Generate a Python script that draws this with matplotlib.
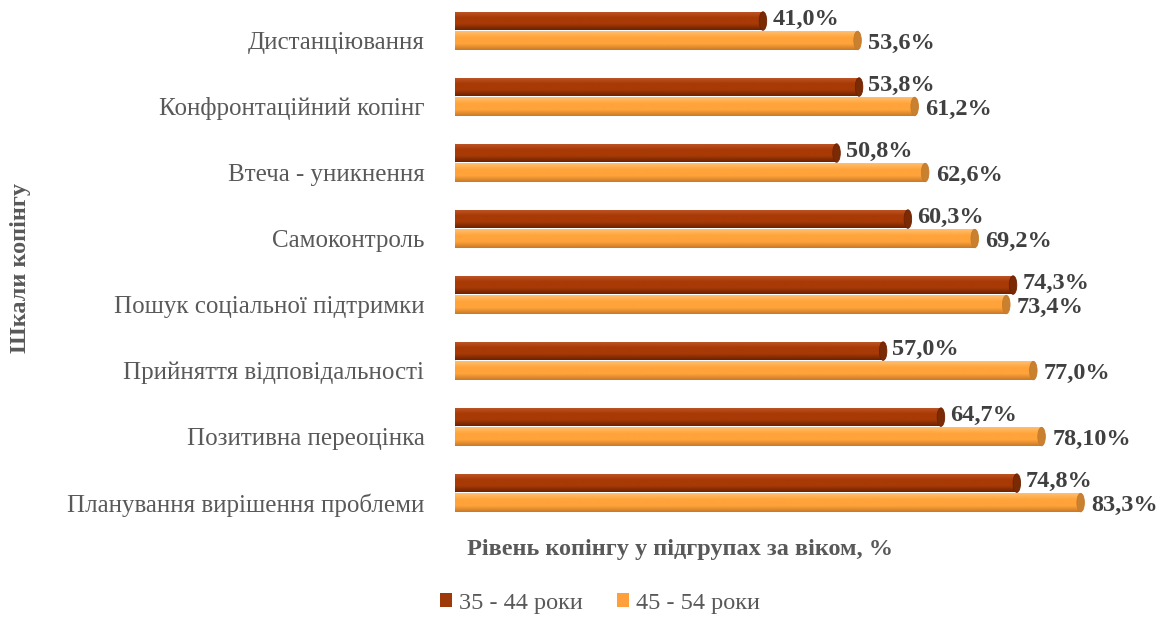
import numpy as np
import matplotlib.pyplot as plt
from matplotlib.colors import LinearSegmentedColormap
from matplotlib.patches import Rectangle, Ellipse, Patch

plt.rcParams['font.family'] = ['Liberation Serif', 'DejaVu Serif']

# шкали копінгу (зверху вниз)
scales = ['Дистанціювання', 'Конфронтаційний копінг', 'Втеча - уникнення',
          'Самоконтроль', 'Пошук соціальної підтримки',
          'Прийняття відповідальності', 'Позитивна переоцінка',
          'Планування вирішення проблеми']
age_35_44 = [41.0, 53.8, 50.8, 60.3, 74.3, 57.0, 64.7, 74.8]
age_45_54 = [53.6, 61.2, 62.6, 69.2, 73.4, 77.0, 78.1, 83.3]
labels_35_44 = ['41,0%', '53,8%', '50,8%', '60,3%', '74,3%', '57,0%', '64,7%', '74,8%']
labels_45_54 = ['53,6%', '61,2%', '62,6%', '69,2%', '73,4%', '77,0%', '78,10%', '83,3%']
series_names = ['35 - 44 роки', '45 - 54 роки']

text_grey = '#595959'
label_grey = '#404040'
fs = 17.5

# кольори циліндрів: верх, середина, низ, торець
dark_cols = ['#c0582a', '#a83a06', '#6e2200', '#7a2a05']
orange_cols = ['#ffc070', '#ffa33a', '#c87a28', '#c9802f']


def draw_cylinder(ax, value, yc, h, cols):
    cmap = LinearSegmentedColormap.from_list('cyl', [cols[0], cols[1], cols[1], cols[2]])
    grad = np.linspace(0, 1, 64).reshape(-1, 1)
    rect = Rectangle((0, yc - h / 2), value, h, transform=ax.transData,
                     facecolor='none', edgecolor='none')
    ax.add_patch(rect)
    im = ax.imshow(grad, cmap=cmap, extent=[0, value, yc - h / 2, yc + h / 2],
                   origin='lower', aspect='auto', zorder=2)
    im.set_clip_path(rect)
    # торець циліндра
    ax.add_patch(Ellipse((value, yc), 1.0, h, facecolor=cols[3],
                         edgecolor=cols[2], lw=0.6, zorder=3))
    # лівий край
    ax.add_patch(Ellipse((0, yc), 0.6, h, facecolor=cols[1],
                         edgecolor='none', zorder=1))


fig = plt.figure(figsize=(11.61, 6.19), dpi=100)
ax = fig.add_axes([455 / 1161, 1 - 530 / 619, 706 / 1161, 530 / 619])

h = 0.28
dy = 0.295
for i in range(len(scales)):
    draw_cylinder(ax, age_35_44[i], i, h, dark_cols)
    draw_cylinder(ax, age_45_54[i], i + dy, h, orange_cols)
    ax.annotate(labels_35_44[i], (age_35_44[i] + 0.5, i), xytext=(4, 1),
                textcoords='offset points', ha='left', va='center',
                fontsize=fs, fontweight='bold', color=label_grey)
    ax.annotate(labels_45_54[i], (age_45_54[i] + 0.5, i + dy), xytext=(5, -2),
                textcoords='offset points', ha='left', va='center',
                fontsize=fs, fontweight='bold', color=label_grey)

ax.set_xlim(0, 94.0)
ax.set_ylim(7.71, -0.318)
ax.set_yticks([i + dy for i in range(len(scales))])
ax.set_yticklabels(scales, fontsize=18, color=text_grey)
ax.tick_params(axis='y', length=0, pad=22)
ax.set_xticks([])
for s in ax.spines.values():
    s.set_visible(False)

fig.text(0.018, 1 - 268 / 619, 'Шкали копінгу', rotation=90, ha='center', va='center',
         fontsize=fs, fontweight='bold', color=text_grey)
fig.text(680 / 1161, 1 - 550 / 619, 'Рівень копінгу у підгрупах за віком, %',
         ha='center', va='center', fontsize=fs, fontweight='bold', color=text_grey)

handles = [Patch(facecolor='#9e3a0a', edgecolor='none'),
           Patch(facecolor='#ffa03c', edgecolor='none')]
leg = fig.legend(handles, series_names, loc='center', ncol=2,
                 bbox_to_anchor=(600 / 1161, 1 - 603 / 619), frameon=False,
                 handlelength=0.5, handleheight=0.5, handletextpad=0.3,
                 columnspacing=1.4, fontsize=fs)
for t in leg.get_texts():
    t.set_color(text_grey)

fig.savefig('out.png', dpi=100)
